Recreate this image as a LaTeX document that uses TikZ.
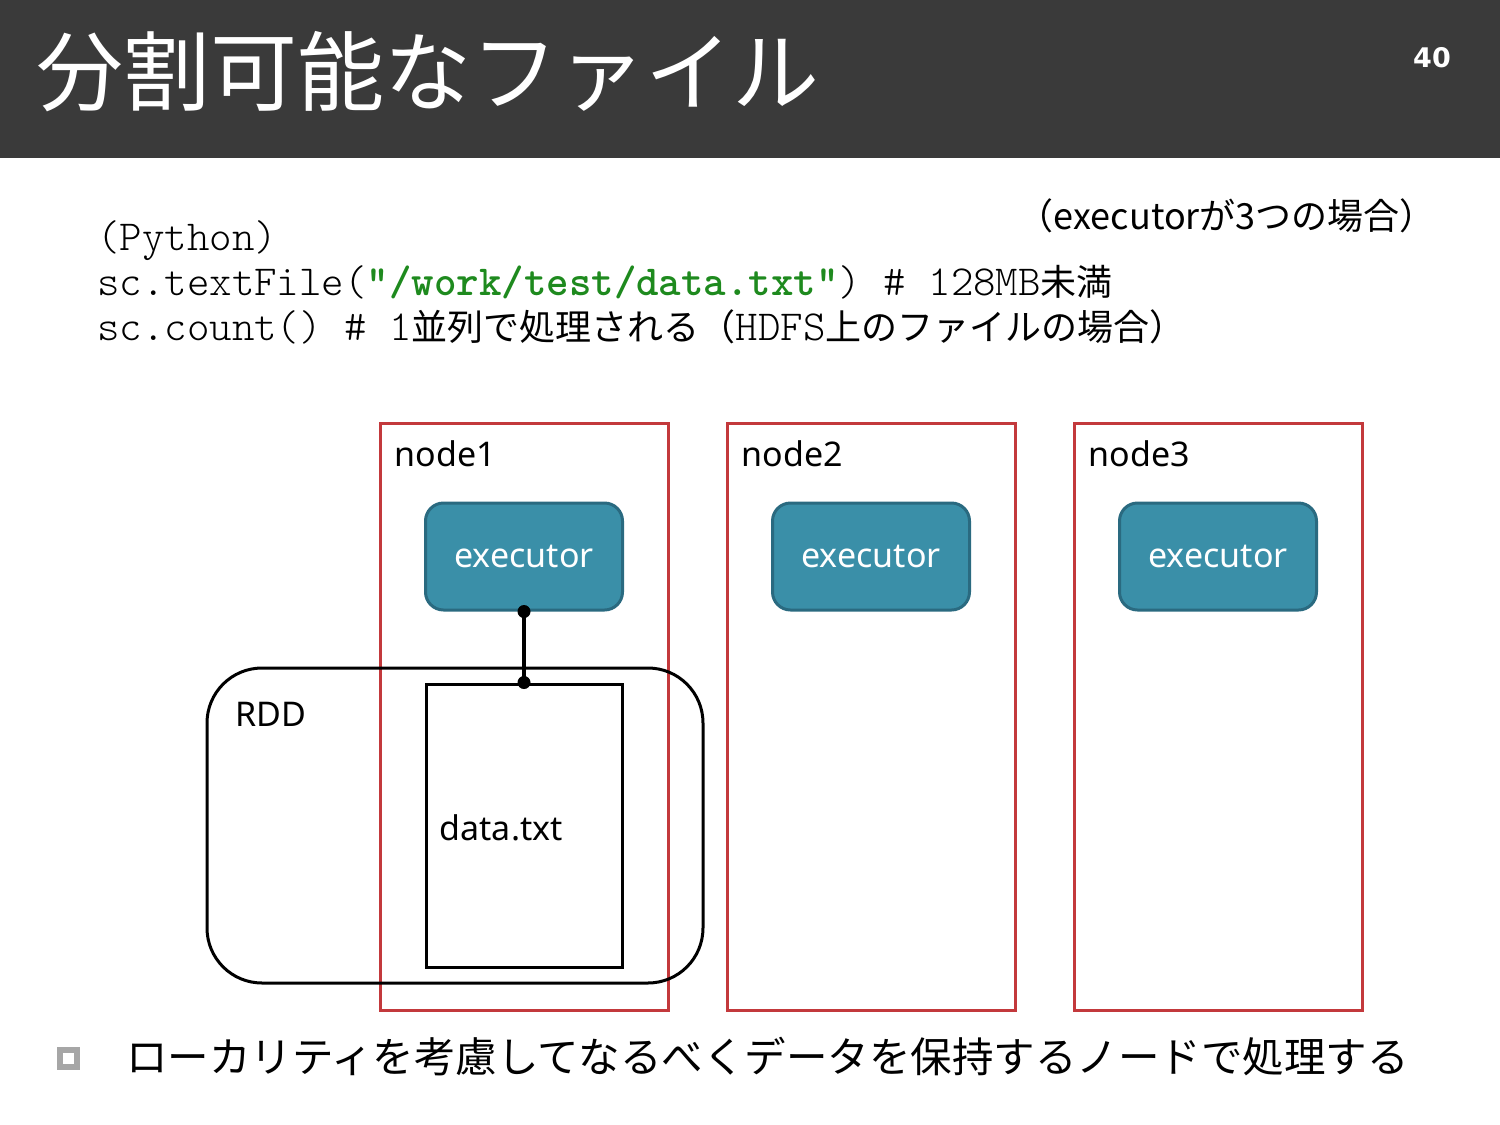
\documentclass[tikz,border=0pt]{standalone}
\usepackage{fontspec}
\newfontfamily\jpfont{Noto Sans CJK JP}
\newfontfamily\latfont{Noto Sans}
\newfontfamily\numfont{DejaVu Sans}
\setmonofont[BoldFont=lmmonolt10-bold.otf]{lmmonolt10-regular.otf}
\usetikzlibrary{positioning}
\definecolor{headgray}{HTML}{3A3A3A}
\definecolor{hostred}{HTML}{C3393C}
\definecolor{execfill}{HTML}{3A8FA8}
\definecolor{execdraw}{HTML}{2A6A80}
\definecolor{codegreen}{HTML}{1E8A1E}
\definecolor{markgray}{HTML}{A6A6A6}
\tikzset{
  hostbox/.style={draw=hostred, line width=3pt, minimum width=288pt, minimum height=587pt, inner sep=0pt},
  hostlabel/.style={anchor=west, inner sep=0pt, font=\latfont\fontsize{34}{40}\selectfont},
  execbox/.style={draw=execdraw, fill=execfill, line width=3pt, rounded corners=18pt,
    minimum width=197pt, minimum height=107pt, text=white, font=\latfont\fontsize{34}{40}\selectfont},
  code/.style={anchor=base west, inner sep=0pt, font=\ttfamily\fontsize{42.8}{45}\selectfont},
}
\newcommand{\jpcode}[1]{{\jpfont\fontsize{36}{40}\selectfont #1}}

\begin{document}
\begin{tikzpicture}
  [
  x=1pt, y=-1pt,
  link/.style={draw=black, line width=3.5pt},
  joint/.style={fill=black},
  ]
  \useasboundingbox (0,0) rectangle (1500,1125);
  % header band
  \fill[headgray] (0,0) rectangle (1500,158);
  \node[anchor=west, inner sep=0pt, text=white, font=\jpfont\fontsize{87}{100}\selectfont] (title) at (36,72) {分割可能なファイル};
  \node[inner sep=0pt, text=white, font=\numfont\bfseries\fontsize{27}{30}\selectfont] (pagenum) at (1432,58) {40};

  % code
  \node[anchor=base east, inner sep=0pt, font=\jpfont\fontsize{36}{40}\selectfont] (case) at (1436,229) {（executorが3つの場合）};
  \node[code] (code1) at (97,250) {(Python)};
  \node[code] (code2) at (97,295) {sc.textFile(\textcolor{codegreen}{\bfseries"/work/test/data.txt"}) \# 128MB\jpcode{未満}};
  \node[code] (code3) at (97,340) {sc.count() \# 1\jpcode{並列で処理される（}HDFS\jpcode{上のファイルの場合）}};

  % cluster nodes
  \foreach \i/\x in {1/524,2/871,3/1218} {
    \node[hostbox] (host\i) at (\x,716.5) {};
    \node[hostlabel] (hostname\i) at ([xshift=16pt,yshift=-32pt]host\i.north west) {node\i};
    \node[execbox] (exec\i) at (\x,556.5) {\raisebox{-3pt}{executor}};
  }

  % RDD and its partition
  \node[draw, line width=3pt, rounded corners=55pt, minimum width=496pt, minimum height=315pt] (rdd) at (455,825.5) {};
  \node[hostlabel] (rddname) at ([xshift=30pt,yshift=-48pt]rdd.north west) {RDD};
  \node[draw, line width=3pt, minimum width=196pt, minimum height=283pt] (file) at (524,825.5) {};
  \node[hostlabel] (filename) at ([xshift=15pt,yshift=-2pt]file.west) {data.txt};

  \draw[link] (exec1.south) -- (file.north);
  \fill[joint] (exec1.south) circle [radius=6.5pt];
  \fill[joint] (file.north) circle [radius=6.5pt];

  % note
  \node[draw=markgray, fill=white, line width=6pt, minimum size=17pt, inner sep=0pt] (mark) at (68,1058) {};
  \node[anchor=west, inner sep=0pt, font=\jpfont\fontsize{41.5}{48}\selectfont] (note) at (126,1057) {ローカリティを考慮してなるべくデータを保持するノードで処理する};
\end{tikzpicture}
\end{document}
